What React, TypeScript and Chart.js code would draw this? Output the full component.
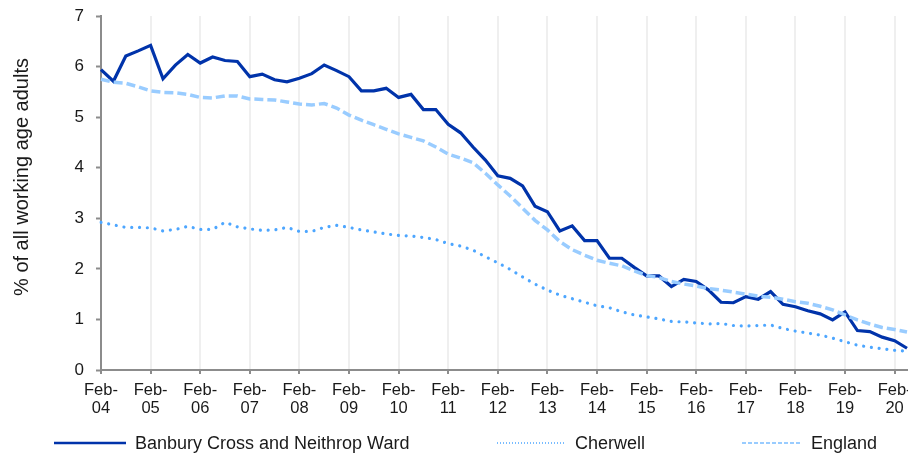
import React, { useEffect, useRef } from 'react';
import { Chart, registerables } from 'chart.js';

Chart.register(...registerables);

// ---------- data ----------
const QUARTER_MONTHS = ['Feb', 'May', 'Aug', 'Nov'];
const FIRST_YEAR = 2004;
const POINT_COUNT = 66; // Feb-04 .. May-20, quarterly
const categories: string[] = Array.from({ length: POINT_COUNT }, (_, i) => {
  const yy = String((FIRST_YEAR + Math.floor(i / 4)) % 100).padStart(2, '0');
  return `${QUARTER_MONTHS[i % 4]}-${yy}`;
});

const banbury = [
  5.94, 5.71, 6.21, 6.31, 6.42, 5.76, 6.03, 6.24, 6.07, 6.19, 6.12, 6.10,
  5.80, 5.85, 5.74, 5.70, 5.77, 5.86, 6.03, 5.92, 5.80, 5.52, 5.52, 5.57,
  5.39, 5.45, 5.15, 5.15, 4.86, 4.69, 4.41, 4.15, 3.84, 3.79, 3.64, 3.24,
  3.13, 2.75, 2.85, 2.56, 2.56, 2.21, 2.21, 2.03, 1.86, 1.86, 1.65, 1.79,
  1.75, 1.58, 1.34, 1.33, 1.45, 1.40, 1.55, 1.30, 1.25, 1.17, 1.11, 0.99,
  1.15, 0.78, 0.76, 0.65, 0.58, 0.43,
];

const cherwell = [
  2.92, 2.87, 2.82, 2.82, 2.81, 2.75, 2.78, 2.84, 2.78, 2.78, 2.92, 2.83,
  2.79, 2.76, 2.77, 2.82, 2.74, 2.74, 2.82, 2.86, 2.82, 2.77, 2.73, 2.69,
  2.66, 2.65, 2.62, 2.58, 2.50, 2.45, 2.37, 2.24, 2.12, 1.99, 1.84, 1.70,
  1.58, 1.48, 1.41, 1.34, 1.27, 1.23, 1.15, 1.09, 1.05, 1.01, 0.96, 0.95,
  0.93, 0.91, 0.92, 0.88, 0.87, 0.88, 0.89, 0.82, 0.77, 0.73, 0.69, 0.63,
  0.56, 0.49, 0.45, 0.42, 0.39, 0.37,
];

const england = [
  5.75, 5.69, 5.67, 5.60, 5.52, 5.49, 5.48, 5.45, 5.39, 5.38, 5.42, 5.42,
  5.36, 5.35, 5.34, 5.30, 5.26, 5.24, 5.27, 5.18, 5.04, 4.94, 4.85, 4.76,
  4.67, 4.60, 4.53, 4.41, 4.27, 4.19, 4.10, 3.89, 3.66, 3.44, 3.20, 2.96,
  2.77, 2.54, 2.38, 2.27, 2.17, 2.11, 2.06, 1.96, 1.87, 1.83, 1.75, 1.70,
  1.66, 1.61, 1.58, 1.54, 1.50, 1.46, 1.44, 1.40, 1.35, 1.32, 1.26, 1.19,
  1.09, 0.99, 0.91, 0.84, 0.80, 0.75,
];

const SERIES_NAMES = ['Banbury Cross and Neithrop Ward', 'Cherwell', 'England'];
const Y_TITLE = '% of all working age adults';
const Y_MIN = 0;
const Y_MAX = 7;

// ---------- styles ----------
const FONT = '"Liberation Sans", Arial, sans-serif';
const TEXT_COLOR = '#1a1a1a';
const AXIS_COLOR = '#8c8c8c';
const GRID_COLOR = '#efefef';
const COLORS = ['#0033aa', '#4da6ff', '#99ccff'];

const LEGEND_ITEMS = [
  { x: 54, w: 72, width: 2.5, dash: [] as number[] },
  { x: 497, w: 69, width: 1.5, dash: [1, 2] },
  { x: 742, w: 60, width: 2, dash: [4, 2] },
];

const overlayPlugin = {
  id: 'overlayText',
  afterDraw(chart: any) {
    const ctx: CanvasRenderingContext2D = chart.ctx;
    // Y axis title
    ctx.save();
    ctx.font = `20px ${FONT}`;
    ctx.fillStyle = TEXT_COLOR;
    ctx.translate(22, 177);
    ctx.rotate(-Math.PI / 2);
    ctx.textAlign = 'center';
    ctx.textBaseline = 'middle';
    ctx.fillText(Y_TITLE, 0, 0);
    ctx.restore();

    // Legend
    const ly = 443;
    chart.data.datasets.forEach((ds: any, i: number) => {
      const item = LEGEND_ITEMS[i];
      ctx.save();
      ctx.strokeStyle = ds.borderColor;
      ctx.lineWidth = item.width;
      ctx.setLineDash(item.dash);
      ctx.beginPath();
      ctx.moveTo(item.x, ly);
      ctx.lineTo(item.x + item.w, ly);
      ctx.stroke();
      ctx.setLineDash([]);
      ctx.font = `18px ${FONT}`;
      ctx.fillStyle = TEXT_COLOR;
      ctx.textAlign = 'left';
      ctx.textBaseline = 'middle';
      ctx.fillText(ds.label, item.x + item.w + 9, ly + 1);
      ctx.restore();
    });
  },
};

export default function App() {
  const canvasRef = useRef<HTMLCanvasElement | null>(null);

  useEffect(() => {
    if (!canvasRef.current) return;
    const chart = new Chart(canvasRef.current, {
      type: 'line',
      data: {
        labels: categories,
        datasets: [
          {
            label: SERIES_NAMES[0],
            data: banbury,
            borderColor: COLORS[0],
            backgroundColor: COLORS[0],
            borderWidth: 3.2,
            pointRadius: 0,
            tension: 0,
            order: 2,
          },
          {
            label: SERIES_NAMES[1],
            data: cherwell,
            borderColor: COLORS[1],
            backgroundColor: COLORS[1],
            borderWidth: 3.2,
            borderDash: [0.01, 7.8],
            borderCapStyle: 'round',
            pointRadius: 0,
            tension: 0,
            order: 1,
          },
          {
            label: SERIES_NAMES[2],
            data: england,
            borderColor: COLORS[2],
            backgroundColor: COLORS[2],
            borderWidth: 3.5,
            borderDash: [9, 4],
            pointRadius: 0,
            tension: 0,
            order: 0,
          },
        ],
      },
      options: {
        animation: false,
        responsive: false,
        devicePixelRatio: 1,
        layout: { padding: { left: 0, right: 1, top: 16, bottom: 0 } },
        plugins: {
          legend: { display: false },
          tooltip: { enabled: false },
          title: { display: false },
        },
        scales: {
          x: {
            type: 'category',
            afterBuildTicks: (scale: any) => {
              scale.ticks = scale.ticks.filter((t: any) => t.value % 4 === 0);
            },
            afterFit: (scale: any) => {
              scale.height = 87;
              scale.paddingLeft = 0;
              scale.paddingRight = 0;
            },
            ticks: {
              autoSkip: false,
              maxRotation: 0,
              minRotation: 0,
              padding: 7,
              color: TEXT_COLOR,
              font: { family: FONT, size: 16.5, lineHeight: 1.1 },
              callback: (value: any) => {
                const lab = categories[Number(value)];
                const [m, y] = lab.split('-');
                return [m + '-', y];
              },
            },
            grid: {
              display: true,
              drawOnChartArea: true,
              color: GRID_COLOR,
              lineWidth: 2,
              tickLength: 4,
              tickColor: AXIS_COLOR,
              tickWidth: 2,
            },
            border: { display: true, color: AXIS_COLOR, width: 2 },
          },
          y: {
            min: Y_MIN,
            max: Y_MAX,
            afterFit: (scale: any) => {
              scale.width = 101;
              scale.paddingTop = 0;
              scale.paddingBottom = 0;
            },
            ticks: {
              stepSize: 1,
              padding: 12,
              color: TEXT_COLOR,
              font: { family: FONT, size: 17 },
            },
            grid: {
              display: true,
              drawOnChartArea: false,
              tickLength: 5,
              tickColor: AXIS_COLOR,
              tickWidth: 2,
            },
            border: { display: true, color: AXIS_COLOR, width: 2 },
          },
        },
      },
      plugins: [overlayPlugin],
    } as any);
    return () => chart.destroy();
  }, []);

  return (
    <div style={{ position: 'absolute', left: 0, top: 0, width: 908, height: 457, background: '#fff' }}>
      <canvas ref={canvasRef} width={908} height={457} style={{ display: 'block', width: 908, height: 457 }} />
    </div>
  );
}
